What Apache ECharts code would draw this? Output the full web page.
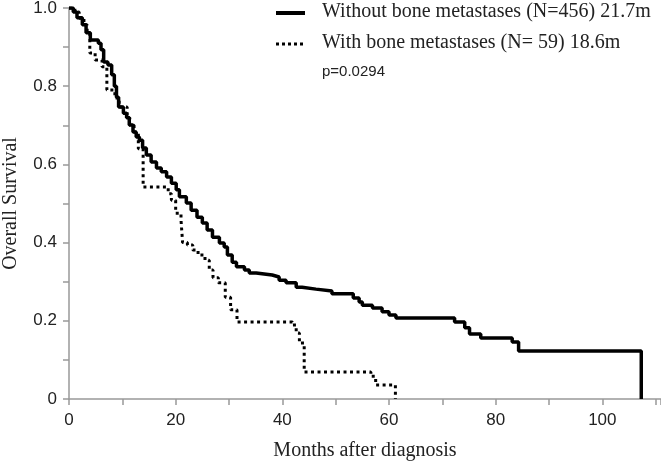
<!DOCTYPE html>
<html>
<head>
<meta charset="utf-8">
<script src="https://cdn.jsdelivr.net/npm/echarts@6/dist/echarts.min.js"></script>
<style>html,body{margin:0;padding:0;background:#fff}#c{width:661px;height:465px}</style>
</head>
<body>
<div id="c"></div>
<script>
// Series names
const seriesNames = ['Without bone metastases (N=456) 21.7m', 'With bone metastases (N= 59) 18.6m'];
const pValueText = 'p=0.0294';
const xAxisTitle = 'Months after diagnosis';
const yAxisTitle = 'Overall Survival';

// Kaplan-Meier steps [month, survival] for group without bone metastases
const withoutBoneMet = [
  [0,1.0],[0.8,0.99],[1.5,0.975],[2.5,0.957],[3.2,0.937],[4.0,0.918],[5.5,0.91],[6.0,0.893],
  [6.5,0.862],[7.3,0.854],[8.0,0.829],[8.5,0.80],[8.9,0.772],[9.3,0.747],[10.2,0.731],[10.8,0.719],
  [11.3,0.701],[12.0,0.683],[12.6,0.670],[13.2,0.662],[13.8,0.642],[14.5,0.624],[15.4,0.606],
  [16.4,0.591],[17.3,0.581],[18.3,0.568],[19.2,0.552],[20.1,0.535],[20.7,0.517],[22.0,0.501],
  [22.9,0.483],[24.0,0.465],[25.0,0.450],[25.9,0.432],[26.9,0.414],[28.2,0.399],[29.1,0.389],
  [29.7,0.368],[30.6,0.350],[31.4,0.338],[32.9,0.330],[33.8,0.322],[35.1,0.317],[38.1,0.312],
  [39.4,0.304],[40.7,0.297],[42.6,0.286],[43.7,0.281],[46.3,0.276],[49.3,0.269],[53.3,0.258],
  [54.4,0.248],[55.0,0.240],[56.9,0.233],[58.7,0.223],[60.0,0.215],[61.3,0.207],[72.3,0.197],
  [74.2,0.182],[75.1,0.166],[77.2,0.156],[83.1,0.146],[84.3,0.123],[107.3,0]
];

// Kaplan-Meier steps [month, survival] for group with bone metastases
const withBoneMet = [
  [0,1.0],[1.1,0.99],[1.9,0.974],[2.8,0.957],[3.4,0.936],[3.9,0.885],[4.9,0.867],[6.2,0.85],
  [7.1,0.79],[8.6,0.77],[9.4,0.747],[10.9,0.719],[11.4,0.70],[12.2,0.683],[13.0,0.64],[13.9,0.542],
  [18.6,0.525],[19.2,0.508],[20.0,0.475],[21.0,0.458],[21.3,0.40],[22.2,0.394],[23.2,0.381],
  [24.2,0.368],[25.5,0.355],[26.3,0.33],[27.0,0.31],[28.0,0.297],[29.3,0.26],[30.3,0.228],
  [31.5,0.197],[41.9,0.189],[42.6,0.169],[43.2,0.143],[44.1,0.069],[56.6,0.058],[57.5,0.036],[61.2,0]
];

const xTicks = [0,20,40,60,80,100];
const yTicks = ['0','0.2','0.4','0.6','0.8','1.0'];

const solidStyle = {color: '#000', width: 3.5};
const dottedStyle = {color: '#000', width: 3, type: [3, 3.5]};

const chart = echarts.init(document.getElementById('c'));
chart.setOption({
  animation: false,
  backgroundColor: '#fff',
  grid: {left: 69, right: 0, top: 8, bottom: 66, containLabel: false, outerBoundsMode: 'none'},
  xAxis: {
    type: 'value', min: 0, max: 111, interval: 10,
    name: xAxisTitle, nameLocation: 'middle', nameGap: 42,
    nameTextStyle: {fontFamily: 'Liberation Serif', fontSize: 20, color: '#222'},
    axisLine: {lineStyle: {color: '#999', width: 1.5}},
    axisTick: {length: 6, lineStyle: {color: '#999', width: 1.5}},
    axisLabel: {
      fontFamily: 'Liberation Sans', fontSize: 17, color: '#222', margin: 13,
      formatter: v => xTicks.includes(v) ? String(v) : ''
    },
    splitLine: {show: false}
  },
  yAxis: {
    type: 'value', min: 0, max: 1, interval: 0.1,
    name: yAxisTitle, nameLocation: 'middle', nameGap: 48, nameRotate: 90,
    nameTextStyle: {fontFamily: 'Liberation Serif', fontSize: 20, color: '#222'},
    axisLine: {show: true, lineStyle: {color: '#999', width: 1.5}},
    axisTick: {show: true, length: 6, lineStyle: {color: '#999', width: 1.5}},
    axisLabel: {
      fontFamily: 'Liberation Sans', fontSize: 17, color: '#222', margin: 12,
      formatter: v => {
        const i = Math.round(v * 10);
        if (i % 2 !== 0) return '';
        return yTicks[i / 2];
      }
    },
    splitLine: {show: false}
  },
  graphic: [
    {type: 'line', shape: {x1: 276, y1: 13, x2: 305, y2: 13}, style: {stroke: '#000', lineWidth: 4}},
    {type: 'text', left: 322, top: 2, style: {text: seriesNames[0], font: '20px "Liberation Serif"', fill: '#222'}},
    {type: 'line', shape: {x1: 276, y1: 44, x2: 305, y2: 44}, style: {stroke: '#000', lineWidth: 3, lineDash: [3, 3]}},
    {type: 'text', left: 322, top: 33, style: {text: seriesNames[1], font: '20px "Liberation Serif"', fill: '#222'}},
    {type: 'text', left: 322, top: 64, style: {text: pValueText, font: '15px "Liberation Sans"', fill: '#222'}}
  ],
  series: [
    {
      name: seriesNames[0], type: 'line', step: 'end', symbol: 'none',
      data: withoutBoneMet, lineStyle: solidStyle, itemStyle: {color: '#000'}
    },
    {
      name: seriesNames[1], type: 'line', step: 'end', symbol: 'none',
      data: withBoneMet, lineStyle: dottedStyle, itemStyle: {color: '#000'}
    }
  ]
});
</script>
</body>
</html>
